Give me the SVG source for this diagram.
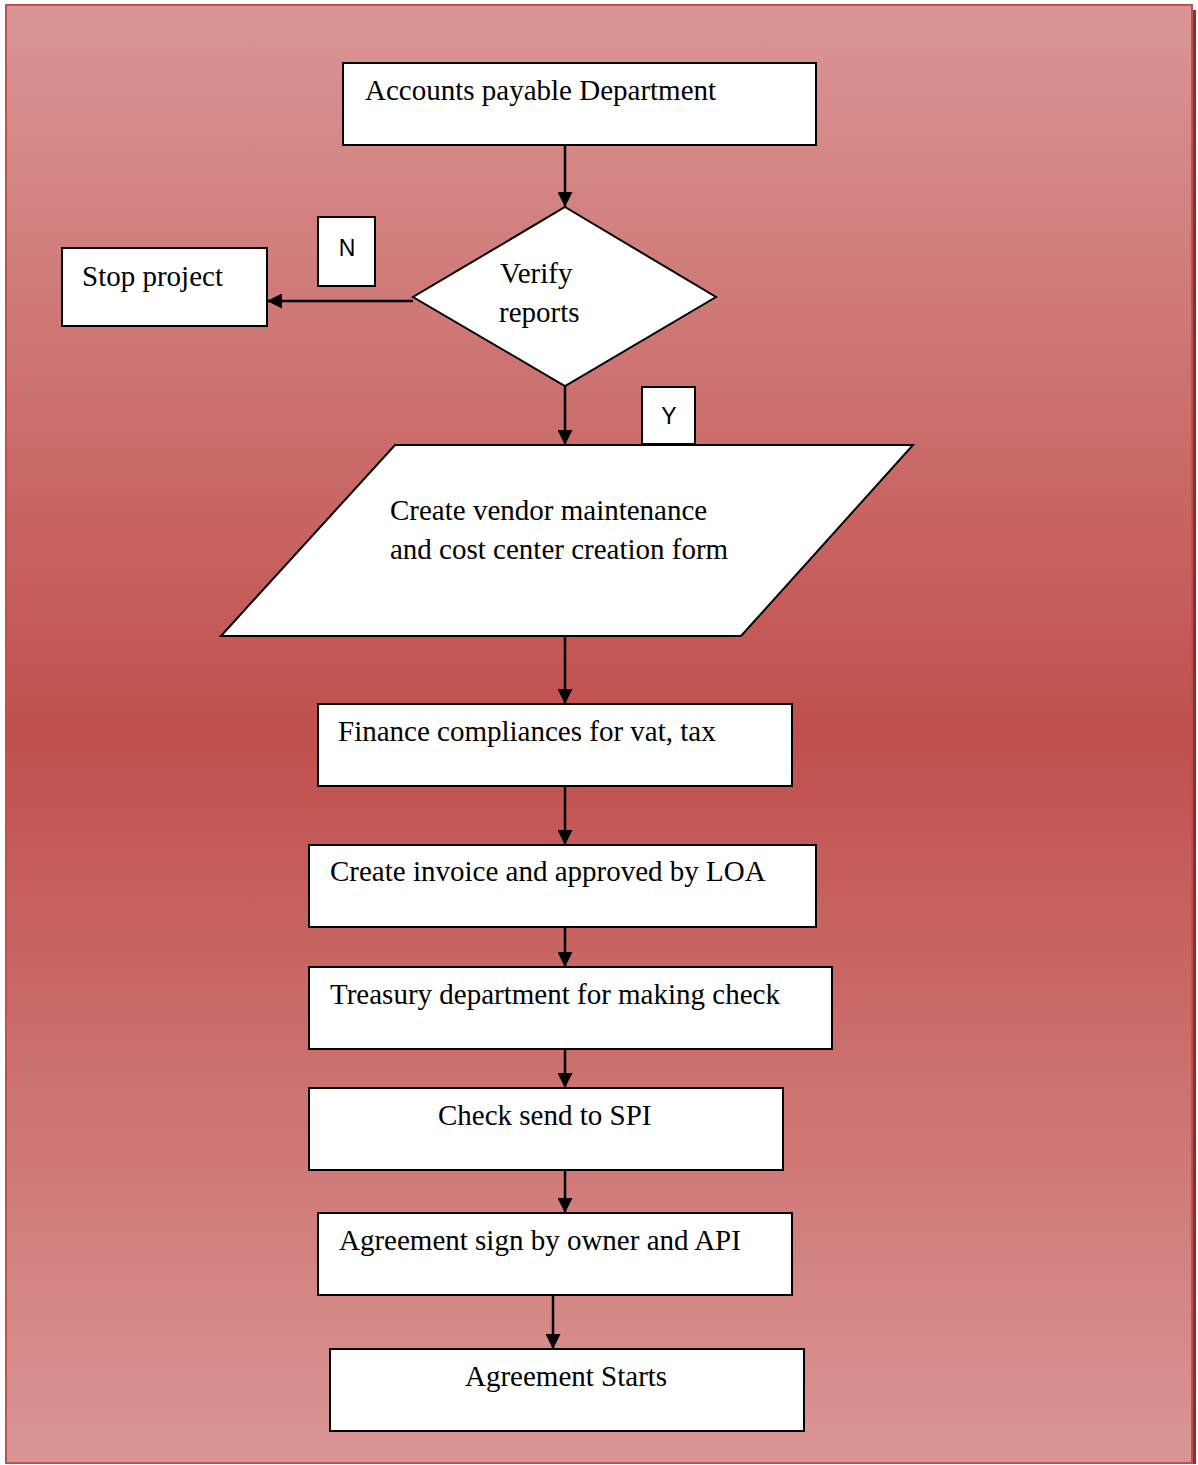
<svg xmlns="http://www.w3.org/2000/svg" width="1198" height="1465" viewBox="0 0 1198 1465">
  <defs>
    <linearGradient id="bg" x1="0" y1="0" x2="0" y2="1">
      <stop offset="0" stop-color="#DA9695"/>
      <stop offset="0.5" stop-color="#C0504D"/>
      <stop offset="1" stop-color="#DA9695"/>
    </linearGradient>
    <marker id="arrow" viewBox="0 0 10 10" refX="10" refY="5" markerWidth="16" markerHeight="15" markerUnits="userSpaceOnUse" orient="auto">
      <path d="M0,0 L10,5 L0,10 z" fill="#000"/>
    </marker>
    <style>
      .shape { fill: #fff; stroke: #000; stroke-width: 2; }
      .label { font-family: "Liberation Serif", "Times New Roman", serif; font-size: 29px; fill: #000; }
      .tag { font-family: "Liberation Sans", Arial, sans-serif; font-size: 23px; fill: #000; text-anchor: middle; }
      .link { fill: none; stroke: #000; stroke-width: 2.5; marker-end: url(#arrow); }
    </style>
  </defs>

  <!-- page frame with shadow on the right edge -->
  <rect x="1193" y="10" width="3" height="1454" fill="#8E2F2D"/>
  <rect x="6" y="5" width="1186" height="1458" fill="url(#bg)" stroke="#C0504D" stroke-width="2"/>

  <g id="connectors">
    <line class="link" x1="565" y1="145" x2="565" y2="207"/>
    <line class="link" x1="413" y1="301" x2="267" y2="301"/>
    <line class="link" x1="565" y1="386" x2="565" y2="445"/>
    <line class="link" x1="565" y1="636" x2="565" y2="704"/>
    <line class="link" x1="565" y1="786" x2="565" y2="845"/>
    <line class="link" x1="565" y1="927" x2="565" y2="967"/>
    <line class="link" x1="565" y1="1049" x2="565" y2="1088"/>
    <line class="link" x1="565" y1="1170" x2="565" y2="1213"/>
    <line class="link" x1="553" y1="1295" x2="553" y2="1349"/>
  </g>

  <g id="accounts-payable">
    <rect class="shape" x="343" y="63" width="473" height="82"/>
    <text class="label" x="365" y="100">Accounts payable Department</text>
  </g>

  <g id="verify-reports">
    <polygon class="shape" points="565,207 716,297 565,386 413,297"/>
    <text class="label" x="500" y="283">Verify</text>
    <text class="label" x="499" y="322">reports</text>
  </g>

  <g id="stop-project">
    <rect class="shape" x="62" y="248" width="205" height="78"/>
    <text class="label" x="82" y="286">Stop project</text>
  </g>

  <g id="tag-n">
    <rect class="shape" x="318" y="217" width="57" height="69"/>
    <text class="tag" x="347" y="256">N</text>
  </g>

  <g id="tag-y">
    <rect class="shape" x="642" y="387" width="53" height="57"/>
    <text class="tag" x="669" y="424">Y</text>
  </g>

  <g id="vendor-form">
    <polygon class="shape" points="395,445 913,445 741,636 221,636"/>
    <text class="label" x="390" y="520">Create vendor maintenance</text>
    <text class="label" x="390" y="559">and cost center creation form</text>
  </g>

  <g id="finance-compliance">
    <rect class="shape" x="318" y="704" width="474" height="82"/>
    <text class="label" x="338" y="741">Finance compliances for vat, tax</text>
  </g>

  <g id="create-invoice">
    <rect class="shape" x="309" y="845" width="507" height="82"/>
    <text class="label" x="330" y="881">Create invoice and approved by LOA</text>
  </g>

  <g id="treasury">
    <rect class="shape" x="309" y="967" width="523" height="82"/>
    <text class="label" x="330" y="1004">Treasury department for making check</text>
  </g>

  <g id="check-send">
    <rect class="shape" x="309" y="1088" width="474" height="82"/>
    <text class="label" x="438" y="1125">Check send to SPI</text>
  </g>

  <g id="agreement-sign">
    <rect class="shape" x="318" y="1213" width="474" height="82"/>
    <text class="label" x="339" y="1250">Agreement sign by owner and API</text>
  </g>

  <g id="agreement-starts">
    <rect class="shape" x="330" y="1349" width="474" height="82"/>
    <text class="label" x="465" y="1386">Agreement Starts</text>
  </g>
</svg>
